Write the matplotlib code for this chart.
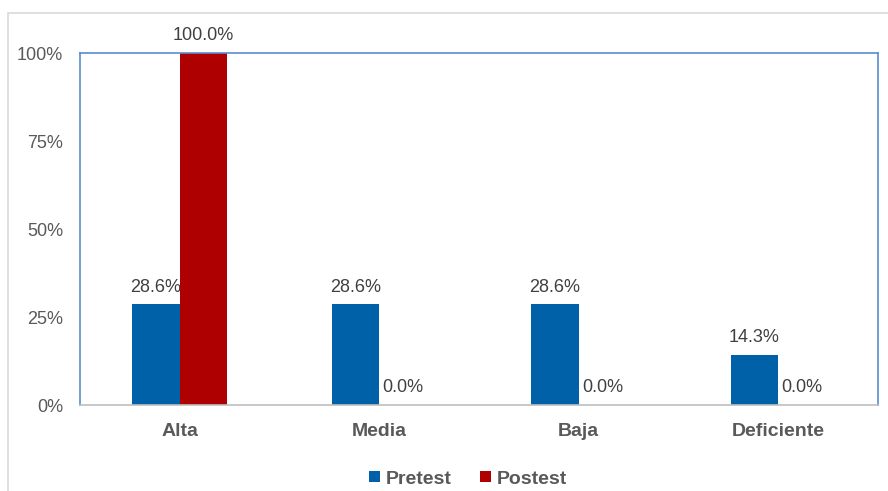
import matplotlib.pyplot as plt
import numpy as np
from matplotlib.patches import Rectangle

plt.rcParams['font.family'] = ['Liberation Sans', 'DejaVu Sans']

categories = ['Alta', 'Media', 'Baja', 'Deficiente']
pretest = [28.6, 28.6, 28.6, 14.3]
postest = [100.0, 0.0, 0.0, 0.0]
yticks = [0, 25, 50, 75, 100]

blue = '#0060A8'
red = '#AE0000'
txt = '#595959'

fig = plt.figure(figsize=(8.88, 4.91), dpi=100)
# outer chart frame (light gray)
fig.patches.append(Rectangle((8 / 888, -0.1), 1.0, (491 - 13) / 491 + 0.1,
                             transform=fig.transFigure, fill=False,
                             edgecolor='#D9D9D9', linewidth=1.2))

ax = fig.add_axes([80 / 888, 1 - 405 / 491, 798 / 888, 352 / 491])
x = np.arange(len(categories))
w = 0.238
b1 = ax.bar(x - w / 2, pretest, w, color=blue, label='Pretest')
b2 = ax.bar(x + w / 2, postest, w, color=red, label='Postest')

for bars, vals in [(b1, pretest), (b2, postest)]:
    for r, v in zip(bars, vals):
        ax.annotate(f'{v:.1f}%', (r.get_x() + r.get_width() / 2, v),
                    xytext=(0, 17), textcoords='offset pixels',
                    ha='center', va='center', fontsize=13, color='#404040')

ax.set_xlim(-0.5, 3.5)
ax.set_ylim(0, 100)
ax.set_yticks(yticks)
ax.set_yticklabels([f'{t}%' for t in yticks])
ax.set_xticks(x)
ax.set_xticklabels(categories, fontweight='bold')
ax.tick_params(axis='both', length=0, colors=txt)
ax.tick_params(axis='y', pad=12, labelsize=13)
ax.tick_params(axis='x', pad=13, labelsize=14)
for s in ['top', 'right', 'left']:
    ax.spines[s].set_color('#5B8BD0')
    ax.spines[s].set_linewidth(1.2)
ax.spines['bottom'].set_color('#BFBFBF')
ax.spines['bottom'].set_linewidth(1.2)

fig.legend(handles=[b1, b2], loc='center', bbox_to_anchor=(468 / 888, 1 - 479 / 491),
           ncol=2, frameon=False, prop={'weight': 'bold', 'size': 14},
           labelcolor=txt, handlelength=0.55, handleheight=0.55, handletextpad=0.3,
           columnspacing=1.5)

fig.savefig('out.png', dpi=100)
